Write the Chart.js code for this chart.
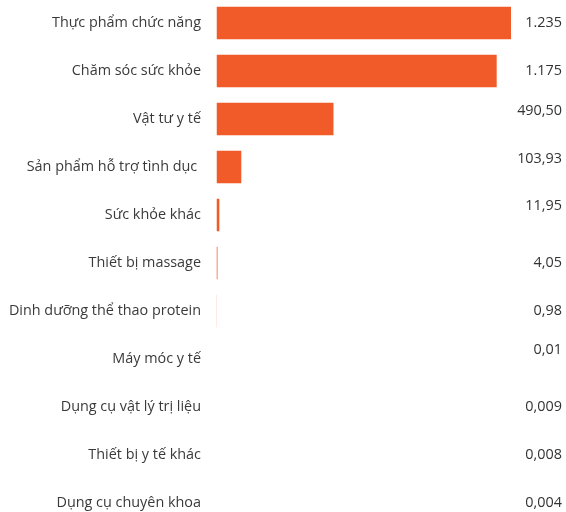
<!DOCTYPE html>
<html>
<head>
<meta charset="utf-8">
<script src="https://cdn.jsdelivr.net/npm/chart.js@4.4.1/dist/chart.umd.min.js"></script>
<style>
  html, body { margin: 0; padding: 0; background: #ffffff; overflow: hidden; }
  #wrap { position: relative; width: 566px; height: 512px; overflow: hidden; }
  #c { position: absolute; left: 0; top: -1px; }
</style>
</head>
<body>
<div id="wrap"><canvas id="c" width="566" height="528"></canvas></div>
<script>
const categories = [
  "Thực phẩm chức năng",
  "Chăm sóc sức khỏe",
  "Vật tư y tế",
  "Sản phẩm hỗ trợ tình dục ",
  "Sức khỏe khác",
  "Thiết bị massage",
  "Dinh dưỡng thể thao protein",
  "Máy móc y tế",
  "Dụng cụ vật lý trị liệu",
  "Thiết bị y tế khác",
  "Dụng cụ chuyên khoa"
];
const values = [1235, 1175, 490.50, 103.93, 11.95, 4.05, 0.98, 0.01, 0.009, 0.008, 0.004];

// style only: vertical nudge of the value text for each row (px)
const valueTextShift = [0, 0, -8, -8, -9, 0, 0, -9, 0, 0, 0];

function formatVi(v) {
  if (v >= 1000) {
    return Math.round(v).toString().replace(/\B(?=(\d{3})+(?!\d))/g, ".");
  }
  if (v >= 1) return v.toFixed(2).replace(".", ",");
  let s = v.toString();
  if (s.indexOf("e") >= 0) s = v.toFixed(3);
  return s.replace(".", ",");
}

const valueLabelPlugin = {
  id: "valueLabels",
  afterDatasetsDraw(chart) {
    const ctx = chart.ctx;
    const meta = chart.getDatasetMeta(0);
    ctx.save();
    ctx.font = "14.4px 'Open Sans'";
    ctx.fillStyle = "#333333";
    ctx.textAlign = "right";
    ctx.textBaseline = "middle";
    meta.data.forEach((bar, i) => {
      ctx.fillText(formatVi(values[i]), 562, bar.y + valueTextShift[i]);
    });
    ctx.restore();
  }
};

new Chart(document.getElementById("c"), {
  type: "bar",
  data: {
    labels: categories,
    datasets: [{
      data: values,
      backgroundColor: "#F15A29",
      borderWidth: 0,
      categoryPercentage: 1,
      barPercentage: 0.68
    }]
  },
  options: {
    indexAxis: "y",
    responsive: false,
    animation: false,
    events: [],
    layout: { padding: { left: 0, right: 55, top: 0, bottom: 0 } },
    plugins: { legend: { display: false }, tooltip: { enabled: false } },
    scales: {
      x: {
        display: false,
        min: 0,
        max: 1235
      },
      y: {
        grid: { display: false, drawTicks: false },
        border: { display: false },
        ticks: {
          padding: 15.5,
          color: "#3a3a3a",
          font: { family: "'Open Sans'", size: 14.4 }
        },
        afterFit(scale) {
          scale.width = 216.5;
          scale.paddingTop = 0;
          scale.paddingBottom = 0;
        }
      }
    }
  },
  plugins: [valueLabelPlugin]
});
</script>
</body>
</html>
